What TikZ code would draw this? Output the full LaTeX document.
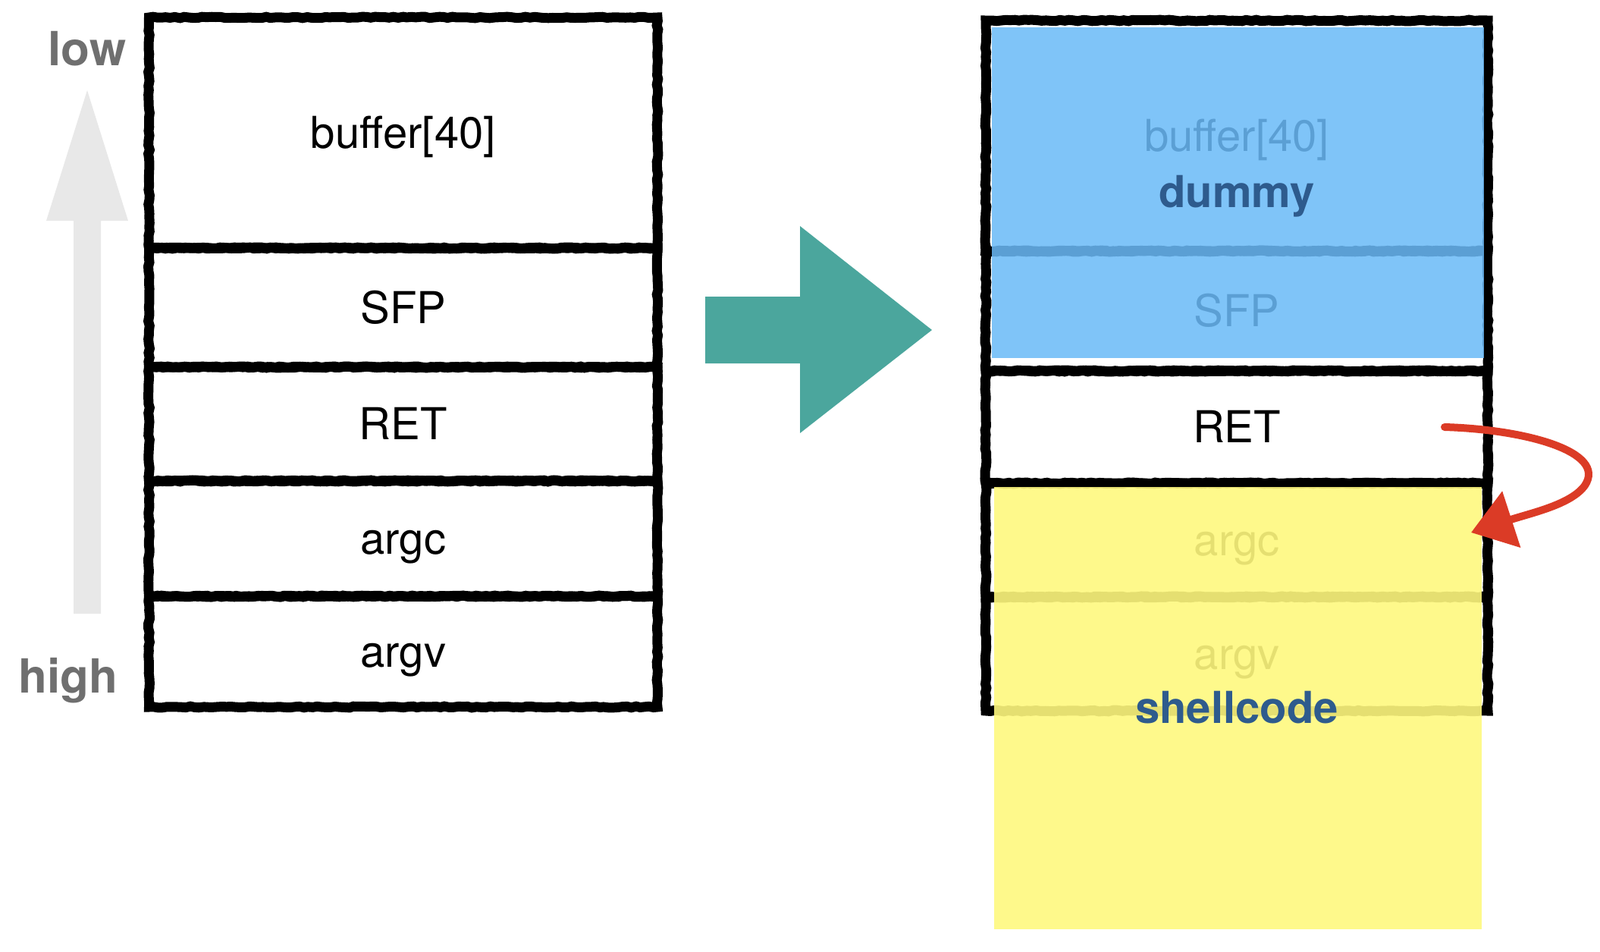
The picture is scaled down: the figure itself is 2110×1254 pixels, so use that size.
\documentclass[tikz,border=0pt]{standalone}
\usepackage{fontspec}
\setmainfont{TeX Gyre Heros}
\usetikzlibrary{arrows.meta,decorations.pathmorphing}
\definecolor{blueFill}{HTML}{6ABAF7}
\definecolor{yellowFill}{HTML}{FEF87E}
\definecolor{tealA}{HTML}{4BA69D}
\definecolor{redA}{HTML}{DB3B26}
\definecolor{grayArrow}{HTML}{E8E8E8}
\definecolor{sideText}{HTML}{6F6F6F}
\definecolor{darkBlue}{HTML}{2E5B8D}
\begin{document}
\begin{tikzpicture}[x=0.5pt,y=-0.5pt,
  cell/.style={draw=black, line width=6.5pt, rectangle, inner sep=0pt,
    decorate, decoration={random steps, segment length=3pt, amplitude=0.45pt},
    text height=20.8pt, text depth=0pt, font=\fontsize{29}{34}\selectfont},
  lcell/.style={cell, minimum width=335.25pt},
  rcell/.style={cell, minimum width=331pt},
  boldlbl/.style={inner sep=0pt, anchor=base, text=darkBlue,
    font=\bfseries\fontsize{29}{34}\selectfont},
  sidelbl/.style={inner sep=0pt, anchor=base, text=sideText,
    font=\bfseries\fontsize{31}{36}\selectfont}]
\useasboundingbox (0,0) rectangle (2110,1254);

% direction arrow (low / high)
\fill[grayArrow] (97,809) -- (97,291) -- (61,291) -- (115,119) -- (169,291)
  -- (133,291) -- (133,809) -- cycle;
\node[sidelbl] (low) at (115,86) {low};
\node[sidelbl] (high) at (90,913) {high};

% left stack
\node[lcell, minimum height=152pt] (l1) at (531.75,175) {buffer[40]};
\node[lcell, minimum height=78.5pt] (l2) at (531.75,405.5) {SFP};
\node[lcell, minimum height=75pt] (l3) at (531.75,559) {RET};
\node[lcell, minimum height=76pt] (l4) at (531.75,710) {argc};
\node[lcell, minimum height=73pt] (l5) at (531.75,859) {argv};

% big teal arrow
\fill[tealA] (930,391) -- (1055,391) -- (1055,298) -- (1229,435)
  -- (1055,571) -- (1055,479) -- (930,479) -- cycle;

% right stack
\node[rcell, minimum height=152pt] (r1) at (1631,179) {buffer[40]};
\node[rcell, minimum height=79pt] (r2) at (1631,410) {SFP};
\node[rcell, minimum height=74pt] (r3) at (1631,563) {RET};
\node[rcell, minimum height=75pt] (r4) at (1631,712) {argc};
\node[rcell, minimum height=75pt] (r5) at (1631,862) {argv};

% overlays
\fill[blueFill, fill opacity=.86] (1308,36) rectangle (1957,472);
\fill[yellowFill, fill opacity=.9] (1311,642) rectangle (1954,1225);

\node[boldlbl] (dummy) at (1631,273) {dummy};
\node[boldlbl] (shell) at (1631,953) {shellcode};

% red hand-drawn arrow
\coordinate (rs) at (1905,563);
\coordinate (re) at (1940,702);
\draw[redA, line width=5pt, line cap=round,
  -{Triangle[length=28pt,width=38pt]}]
  (rs) .. controls (2010,566) and (2120,595) .. (2090,640)
  .. controls (2072,665) and (2020,676) .. (re);
\end{tikzpicture}
\end{document}
